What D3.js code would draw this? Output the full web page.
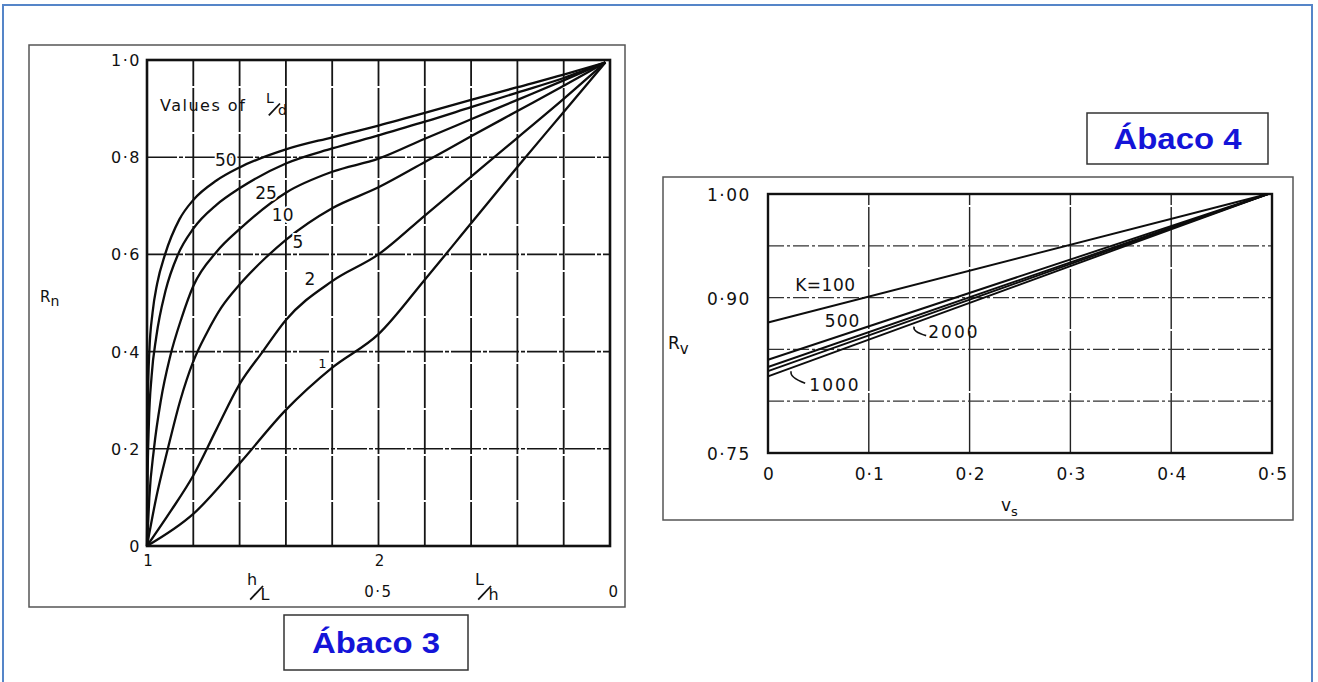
<!DOCTYPE html>
<html>
<head>
<meta charset="utf-8">
<script src="https://cdn.jsdelivr.net/npm/d3@7"></script>
<style>
    body { margin: 0; background: #fff; }
    svg { display: block; font-family: "DejaVu Sans", sans-serif; }
</style>
</head>
<body>
<svg id="chart" width="1318" height="682"></svg>
<script>
// Abaco 3 - Rn, x runs over 10 grid divisions (1 -> 2 on the left half, 0.5 -> 0 on the right)
var rnTicks = [0, 0.2, 0.4, 0.6, 0.8, 1.0];
var rnTickLabels = ["0", "0·2", "0·4", "0·6", "0·8", "1·0"];
var hlTickPos = [0, 5];
var hlTickLabels = ["1", "2"];
var lhTickPos = [5, 10];
var lhTickLabels = ["0·5", "0"];

var ldLabels = ["50", "25", "10", "5", "2", "1"];
var ld50X = [0, 0.005, 0.02, 0.05, 0.12, 0.22, 0.39, 0.7, 1, 1.5, 2, 3, 4, 5, 6, 7, 8, 9, 9.9];
var ld50Y = [0, 0.15, 0.3, 0.4, 0.48, 0.54, 0.6, 0.672, 0.712, 0.752, 0.779, 0.816, 0.841, 0.865, 0.891, 0.918, 0.944, 0.97, 0.995];
var ld25X = [0, 0.01, 0.04, 0.1, 0.2, 0.4, 0.67, 1, 1.5, 2, 3, 4, 5, 6, 7, 8, 9, 9.9];
var ld25Y = [0, 0.12, 0.25, 0.35, 0.43, 0.525, 0.6, 0.653, 0.702, 0.736, 0.787, 0.818, 0.845, 0.873, 0.903, 0.933, 0.963, 0.995];
var ld10X = [0, 0.05, 0.15, 0.3, 0.5, 0.75, 1, 1.5, 2, 3, 4, 5, 6, 7, 8, 9, 9.9];
var ld10Y = [0, 0.1, 0.2, 0.3, 0.39, 0.47, 0.535, 0.605, 0.652, 0.727, 0.77, 0.797, 0.838, 0.878, 0.918, 0.958, 0.995];
var ld5X = [0, 0.2, 0.45, 0.72, 1, 1.3, 1.6, 2, 2.55, 3, 4, 5, 6, 7, 8, 9, 9.9];
var ld5Y = [0, 0.1, 0.2, 0.3, 0.38, 0.44, 0.49, 0.538, 0.592, 0.63, 0.695, 0.738, 0.79, 0.843, 0.895, 0.947, 0.995];
var ld2X = [0, 0.5, 1, 1.5, 2, 2.5, 3, 4, 5, 6, 7, 8, 9, 9.9];
var ld2Y = [0, 0.07, 0.145, 0.24, 0.333, 0.4, 0.465, 0.545, 0.6, 0.68, 0.76, 0.84, 0.92, 0.995];
var ld1X = [0, 1, 2, 3, 4, 5, 6, 7, 8, 9, 9.9];
var ld1Y = [0, 0.066, 0.17, 0.28, 0.367, 0.436, 0.548, 0.664, 0.78, 0.893, 0.995];

// Abaco 4 - Rv against vs
var rvGrid = [0.75, 0.80, 0.85, 0.90, 0.95, 1.00];
var rvTicks = [0.75, 0.90, 1.00];
var rvTickLabels = ["0·75", "0·90", "1·00"];
var vsTicks = [0, 0.1, 0.2, 0.3, 0.4, 0.5];
var vsTickLabels = ["0", "0·1", "0·2", "0·3", "0·4", "0·5"];
var vsEnds = [0, 0.496];
var rvK100 = [0.876, 1.0];
var rvK500 = [0.840, 1.0];
var rvK1000 = [0.833, 1.0];
var rvK2000 = [0.829, 1.0];
var rvK5000 = [0.824, 1.0];

var svg = d3.select("#chart");

svg.append("rect")
    .attr("x", 3).attr("y", 5)
    .attr("width", 1309).attr("height", 690)
    .attr("fill", "none")
    .attr("stroke", "#5585c8")
    .attr("stroke-width", 2);

function slashFraction(g, x, y, top, bottom, size) {
    g.append("text").attr("x", x).attr("y", y - size * 0.3)
        .attr("font-size", size).attr("fill", "#111").text(top);
    g.append("line")
        .attr("x1", x + size * 0.2).attr("y1", y + size * 0.6)
        .attr("x2", x + size * 1.0).attr("y2", y - size * 0.25)
        .attr("stroke", "#111").attr("stroke-width", 1.8);
    g.append("text").attr("x", x + size * 0.85).attr("y", y + size * 0.6)
        .attr("font-size", size).attr("fill", "#111").text(bottom);
}

function titleBox(x, y, w, h, label) {
    svg.append("rect")
        .attr("x", x).attr("y", y).attr("width", w).attr("height", h)
        .attr("fill", "#fff").attr("stroke", "#333").attr("stroke-width", 1.5);
    svg.append("text")
        .attr("x", x + w / 2).attr("y", y + h / 2 + 10)
        .attr("text-anchor", "middle")
        .attr("font-family", "'Liberation Sans', Arial, sans-serif")
        .attr("font-weight", "bold")
        .attr("font-size", 29)
        .attr("fill", "#1414d8")
        .attr("textLength", 128)
        .attr("lengthAdjust", "spacingAndGlyphs")
        .text(label);
}

// ---------------- Abaco 3 ----------------
var g3 = svg.append("g");
g3.append("rect")
    .attr("x", 29).attr("y", 45).attr("width", 596).attr("height", 562)
    .attr("fill", "none").attr("stroke", "#555").attr("stroke-width", 1.5);

var x3 = d3.scaleLinear().domain([0, 10]).range([147, 610]);
var y3 = d3.scaleLinear().domain([0, 1]).range([546, 60]);

g3.selectAll("line.vgrid")
    .data(d3.range(1, 10)).enter()
    .append("line")
    .attr("class", "vgrid")
    .attr("x1", function(d) { return x3(d); })
    .attr("x2", function(d) { return x3(d); })
    .attr("y1", y3(0)).attr("y2", y3(1))
    .attr("stroke", "#151515").attr("stroke-width", 1.8)
    .attr("stroke-dasharray", "44,2");

g3.selectAll("line.hgrid")
    .data(rnTicks.slice(1, -1)).enter()
    .append("line")
    .attr("class", "hgrid")
    .attr("x1", x3(0)).attr("x2", x3(10))
    .attr("y1", function(d) { return y3(d); })
    .attr("y2", function(d) { return y3(d); })
    .attr("stroke", "#151515").attr("stroke-width", 1.6)
    .attr("stroke-dasharray", "30,2,4,2");

g3.append("rect")
    .attr("x", x3(0)).attr("y", y3(1))
    .attr("width", x3(10) - x3(0)).attr("height", y3(0) - y3(1))
    .attr("fill", "none").attr("stroke", "#111").attr("stroke-width", 2.6);

var ldSeries = [
    { label: ldLabels[0], xs: ld50X, ys: ld50Y },
    { label: ldLabels[1], xs: ld25X, ys: ld25Y },
    { label: ldLabels[2], xs: ld10X, ys: ld10Y },
    { label: ldLabels[3], xs: ld5X, ys: ld5Y },
    { label: ldLabels[4], xs: ld2X, ys: ld2Y },
    { label: ldLabels[5], xs: ld1X, ys: ld1Y }
];

var line3 = d3.line()
    .x(function(d) { return x3(d[0]); })
    .y(function(d) { return y3(d[1]); })
    .curve(d3.curveMonotoneX);

g3.selectAll("path.ld")
    .data(ldSeries).enter()
    .append("path")
    .attr("class", "ld")
    .attr("d", function(s) { return line3(d3.zip(s.xs, s.ys)); })
    .attr("fill", "none").attr("stroke", "#0d0d0d").attr("stroke-width", 2.3);

// curve labels, placed in grid units
var ldLabelPos = [[1.7, 0.795], [2.57, 0.726], [2.93, 0.681], [3.26, 0.626], [3.52, 0.549], [3.79, 0.379]];
g3.selectAll("text.ldlab")
    .data(ldSeries).enter()
    .append("text")
    .attr("class", "ldlab")
    .attr("x", function(s, i) { return x3(ldLabelPos[i][0]); })
    .attr("y", function(s, i) { return y3(ldLabelPos[i][1]) + 6; })
    .attr("text-anchor", "middle")
    .attr("font-size", function(s, i) { return i === 5 ? 13 : 17; })
    .attr("fill", "#111")
    .attr("stroke", "#fff").attr("stroke-width", 4).attr("paint-order", "stroke")
    .text(function(s) { return s.label; });

g3.selectAll("text.rntick")
    .data(rnTicks).enter()
    .append("text")
    .attr("class", "rntick")
    .attr("x", 141)
    .attr("y", function(d) { return y3(d) + 6; })
    .attr("text-anchor", "end")
    .attr("font-size", 16)
    .attr("letter-spacing", 1.5)
    .attr("fill", "#111")
    .text(function(d, i) { return rnTickLabels[i]; });

g3.selectAll("text.hltick")
    .data(hlTickPos).enter()
    .append("text")
    .attr("class", "hltick")
    .attr("x", function(d) { return x3(d) + 1; })
    .attr("y", 566)
    .attr("text-anchor", "middle")
    .attr("font-size", 15)
    .attr("fill", "#111")
    .text(function(d, i) { return hlTickLabels[i]; });

g3.selectAll("text.lhtick")
    .data(lhTickPos).enter()
    .append("text")
    .attr("class", "lhtick")
    .attr("x", function(d) { return x3(d) + (d === 10 ? 4 : 0); })
    .attr("y", 597)
    .attr("text-anchor", "middle")
    .attr("font-size", 15)
    .attr("letter-spacing", 1.5)
    .attr("fill", "#111")
    .text(function(d, i) { return lhTickLabels[i]; });

slashFraction(g3, 247, 590, "h", "L", 16);
slashFraction(g3, 475, 590, "L", "h", 16);

var rn = g3.append("text").attr("x", 40).attr("y", 302).attr("font-size", 15).attr("fill", "#111");
rn.append("tspan").text("R");
rn.append("tspan").attr("dy", 4).attr("font-size", 14).text("n");

g3.append("text")
    .attr("x", 160).attr("y", 111)
    .attr("font-size", 16).attr("letter-spacing", 1.5).attr("fill", "#111")
    .text("Values  of");
slashFraction(g3, 266, 107, "L", "d", 14);

titleBox(284, 615, 184, 55, "Ábaco 3");

// ---------------- Abaco 4 ----------------
var g4 = svg.append("g");
g4.append("rect")
    .attr("x", 663).attr("y", 177).attr("width", 630).attr("height", 343)
    .attr("fill", "none").attr("stroke", "#555").attr("stroke-width", 1.5);

var x4 = d3.scaleLinear().domain([0, 0.5]).range([768, 1272]);
var y4 = d3.scaleLinear().domain([0.75, 1.0]).range([453, 194]);

g4.selectAll("line.vgrid")
    .data(vsTicks.slice(1, -1)).enter()
    .append("line")
    .attr("class", "vgrid")
    .attr("x1", function(d) { return x4(d); })
    .attr("x2", function(d) { return x4(d); })
    .attr("y1", y4(0.75)).attr("y2", y4(1))
    .attr("stroke", "#222").attr("stroke-width", 1.4)
    .attr("stroke-dasharray", "60,2");

g4.selectAll("line.hgrid")
    .data(rvGrid.slice(1, -1)).enter()
    .append("line")
    .attr("class", "hgrid")
    .attr("x1", x4(0)).attr("x2", x4(0.5))
    .attr("y1", function(d) { return y4(d); })
    .attr("y2", function(d) { return y4(d); })
    .attr("stroke", "#333").attr("stroke-width", 1.3)
    .attr("stroke-dasharray", "16,3,3,3");

g4.append("rect")
    .attr("x", x4(0)).attr("y", y4(1))
    .attr("width", x4(0.5) - x4(0)).attr("height", y4(0.75) - y4(1))
    .attr("fill", "none").attr("stroke", "#111").attr("stroke-width", 2.4);

var rvSeries = [rvK100, rvK500, rvK1000, rvK2000, rvK5000];
var line4 = d3.line()
    .x(function(d) { return x4(d[0]); })
    .y(function(d) { return y4(d[1]); });

g4.selectAll("path.rv")
    .data(rvSeries).enter()
    .append("path")
    .attr("class", "rv")
    .attr("d", function(s) { return line4(d3.zip(vsEnds, s)); })
    .attr("fill", "none").attr("stroke", "#0d0d0d").attr("stroke-width", 1.9);

g4.selectAll("text.rvtick")
    .data(rvTicks).enter()
    .append("text")
    .attr("class", "rvtick")
    .attr("x", 707)
    .attr("y", function(d) { return y4(d) + 7; })
    .attr("font-size", 17)
    .attr("letter-spacing", 1.5)
    .attr("fill", "#111")
    .text(function(d, i) { return rvTickLabels[i]; });

g4.selectAll("text.vstick")
    .data(vsTicks).enter()
    .append("text")
    .attr("class", "vstick")
    .attr("x", function(d) { return x4(d) + 1; })
    .attr("y", 480)
    .attr("text-anchor", "middle")
    .attr("font-size", 17)
    .attr("letter-spacing", 1)
    .attr("fill", "#111")
    .text(function(d, i) { return vsTickLabels[i]; });

var rv = g4.append("text").attr("x", 668).attr("y", 349).attr("font-size", 17).attr("fill", "#111");
rv.append("tspan").text("R");
rv.append("tspan").attr("dy", 5).attr("font-size", 15).text("v");

var vs = g4.append("text").attr("x", 1001).attr("y", 511).attr("font-size", 17).attr("fill", "#111");
vs.append("tspan").text("v");
vs.append("tspan").attr("dy", 5).attr("font-size", 13).text("s");

// K labels
g4.append("text").attr("x", x4(0.027)).attr("y", y4(0.906))
    .attr("font-size", 17).attr("letter-spacing", 0.5).attr("fill", "#111")
    .text("K=100");
g4.append("text").attr("x", x4(0.074)).attr("y", y4(0.872))
    .attr("text-anchor", "middle")
    .attr("font-size", 17).attr("letter-spacing", 1).attr("fill", "#111")
    .attr("stroke", "#fff").attr("stroke-width", 3).attr("paint-order", "stroke")
    .text("500");
g4.append("text").attr("x", x4(0.159)).attr("y", y4(0.861))
    .attr("font-size", 17).attr("letter-spacing", 2).attr("fill", "#111")
    .text("2000");
g4.append("text").attr("x", x4(0.041)).attr("y", y4(0.81))
    .attr("font-size", 17).attr("letter-spacing", 2).attr("fill", "#111")
    .text("1000");

// leader hooks for 2000 and 1000
g4.append("path")
    .attr("d", "M" + (x4(0.145)) + "," + (y4(0.872)) + " q -2,5 12,9")
    .attr("fill", "none").attr("stroke", "#111").attr("stroke-width", 1.6);
g4.append("path")
    .attr("d", "M" + (x4(0.023)) + "," + (y4(0.829)) + " q -2,6 14,12")
    .attr("fill", "none").attr("stroke", "#111").attr("stroke-width", 1.6);

titleBox(1087, 113, 181, 51, "Ábaco 4");
</script>
</body>
</html>
